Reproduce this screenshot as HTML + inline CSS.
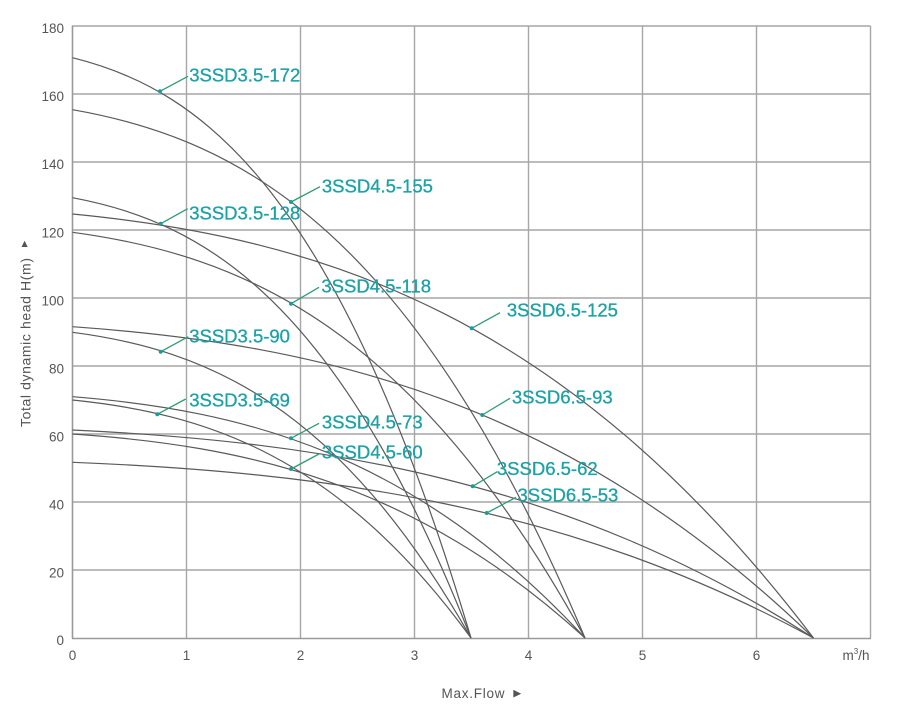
<!DOCTYPE html>
<html>
<head>
<meta charset="utf-8">
<style>
  html, body { margin: 0; padding: 0; background: #ffffff; }
  svg { display: block; }
  .tick { font-family: "Liberation Sans", "DejaVu Sans", sans-serif; font-size: 13.5px; fill: #555555; }
  .lbl { font-family: "Liberation Sans", "DejaVu Sans", sans-serif; font-size: 18.5px; fill: #1aa2a6; stroke: #1aa2a6; stroke-width: 0.3; }
  .ax { font-family: "Liberation Sans", "DejaVu Sans", sans-serif; font-size: 14px; fill: #555555; }
</style>
</head>
<body>
<svg width="900" height="715" viewBox="0 0 900 715" xmlns="http://www.w3.org/2000/svg">
  <rect x="0" y="0" width="900" height="715" fill="#ffffff"/>

  <!-- grid -->
  <g stroke="#a6a6a6" stroke-width="1.4" fill="none">
    <line x1="72.5" y1="26" x2="870.5" y2="26"/>
    <line x1="72.5" y1="94" x2="870.5" y2="94"/>
    <line x1="72.5" y1="162" x2="870.5" y2="162"/>
    <line x1="72.5" y1="230" x2="870.5" y2="230"/>
    <line x1="72.5" y1="298" x2="870.5" y2="298"/>
    <line x1="72.5" y1="366" x2="870.5" y2="366"/>
    <line x1="72.5" y1="434" x2="870.5" y2="434"/>
    <line x1="72.5" y1="502" x2="870.5" y2="502"/>
    <line x1="72.5" y1="570" x2="870.5" y2="570"/>
    <line x1="186.5" y1="26" x2="186.5" y2="638"/>
    <line x1="300.5" y1="26" x2="300.5" y2="638"/>
    <line x1="414.5" y1="26" x2="414.5" y2="638"/>
    <line x1="528.5" y1="26" x2="528.5" y2="638"/>
    <line x1="642.5" y1="26" x2="642.5" y2="638"/>
    <line x1="756.5" y1="26" x2="756.5" y2="638"/>
    <line x1="870.5" y1="26" x2="870.5" y2="638"/>
  </g>
  <g stroke="#999999" stroke-width="1.6" fill="none">
    <line x1="72.5" y1="25.5" x2="72.5" y2="638.5"/>
    <line x1="72" y1="638.5" x2="871" y2="638.5"/>
  </g>

  <!-- curves -->
  <g stroke="#5a5a5a" stroke-width="1.2" fill="none">
    <path d="M72.5,57.7 C205.33,90.6 338.17,193.1 471,638"/>
    <path d="M72.5,109.7 C243.33,139.6 414.17,233.0 585,638"/>
    <path d="M72.5,197.7 C205.33,222.6 338.17,300.4 471,638"/>
    <path d="M72.5,214 C319.5,238.0 566.5,312.9 813.5,638"/>
    <path d="M72.5,232.3 C243.33,255.3 414.17,327.0 585,638"/>
    <path d="M72.5,326.7 C319.5,344.3 566.5,399.3 813.5,638"/>
    <path d="M72.5,332.3 C205.33,349.6 338.17,403.6 471,638"/>
    <path d="M72.5,396.7 C243.33,410.4 414.17,453.0 585,638"/>
    <path d="M72.5,400 C205.33,413.5 338.17,455.5 471,638"/>
    <path d="M72.5,430 C319.5,441.8 566.5,478.5 813.5,638"/>
    <path d="M72.5,434 C243.33,445.6 414.17,481.6 585,638"/>
    <path d="M72.5,462.3 C319.5,472.3 566.5,503.3 813.5,638"/>
  </g>

  <!-- leader lines -->
  <g stroke="#2e9c72" stroke-width="1.3" fill="none">
    <line x1="160" y1="91.3" x2="188" y2="76.3"/>
    <line x1="291" y1="202" x2="320" y2="186.7"/>
    <line x1="160.7" y1="223.7" x2="187.7" y2="208.7"/>
    <line x1="291" y1="303.7" x2="319" y2="287.3"/>
    <line x1="471.7" y1="328.3" x2="500" y2="312.7"/>
    <line x1="160.7" y1="351.7" x2="188.3" y2="336.7"/>
    <line x1="482.3" y1="415" x2="510" y2="398.3"/>
    <line x1="157.3" y1="414.3" x2="185.7" y2="399"/>
    <line x1="291" y1="438.3" x2="319" y2="423.3"/>
    <line x1="291" y1="469" x2="319" y2="454"/>
    <line x1="472.7" y1="486.3" x2="497.3" y2="471.7"/>
    <line x1="486.7" y1="513" x2="516" y2="497.3"/>
  </g>
  <g fill="#1a9c9c">
    <circle cx="160" cy="91.3" r="2"/>
    <circle cx="291" cy="202" r="2"/>
    <circle cx="160.7" cy="223.7" r="2"/>
    <circle cx="291" cy="303.7" r="2"/>
    <circle cx="471.7" cy="328.3" r="2"/>
    <circle cx="160.7" cy="351.7" r="2"/>
    <circle cx="482.3" cy="415" r="2"/>
    <circle cx="157.3" cy="414.3" r="2"/>
    <circle cx="291" cy="438.3" r="2"/>
    <circle cx="291" cy="469" r="2"/>
    <circle cx="472.7" cy="486.3" r="2"/>
    <circle cx="486.7" cy="513" r="2"/>
  </g>

  <!-- labels -->
  <g class="lbl">
    <text x="189.2" y="81.3">3SSD3.5-172</text>
    <text x="321.9" y="192.3">3SSD4.5-155</text>
    <text x="189.2" y="219.3">3SSD3.5-128</text>
    <text x="321.4" y="292.7">3SSD4.5-118</text>
    <text x="506.9" y="316.7">3SSD6.5-125</text>
    <text x="189.2" y="342.3">3SSD3.5-90</text>
    <text x="511.9" y="403.3">3SSD6.5-93</text>
    <text x="189.2" y="406.7">3SSD3.5-69</text>
    <text x="321.9" y="428.3">3SSD4.5-73</text>
    <text x="321.9" y="458.3">3SSD4.5-60</text>
    <text x="496.9" y="475">3SSD6.5-62</text>
    <text x="517.5" y="501.7">3SSD6.5-53</text>
  </g>

  <!-- y tick labels -->
  <g class="tick" text-anchor="end">
    <text x="64" y="33">180</text>
    <text x="64" y="101">160</text>
    <text x="64" y="169">140</text>
    <text x="64" y="237.5">120</text>
    <text x="64" y="305.5">100</text>
    <text x="64" y="373.5">80</text>
    <text x="64" y="441.5">60</text>
    <text x="64" y="509.5">40</text>
    <text x="64" y="577.5">20</text>
    <text x="64" y="645">0</text>
  </g>
  <!-- x tick labels -->
  <g class="tick" text-anchor="middle">
    <text x="72.5" y="660">0</text>
    <text x="186.5" y="660">1</text>
    <text x="300.5" y="660">2</text>
    <text x="414.5" y="660">3</text>
    <text x="528.5" y="660">4</text>
    <text x="642.5" y="660">5</text>
    <text x="756.5" y="660">6</text>
  </g>
  <text class="tick" x="842.5" y="660">m<tspan font-size="8" dy="-6">3</tspan><tspan dy="6">/h</tspan></text>

  <!-- axis titles -->
  <text class="ax" style="font-size:13.5px" x="441.5" y="698" textLength="63" lengthAdjust="spacing">Max.Flow</text>
  <polygon points="513.3,689.8 513.3,697.5 521.2,693.7" fill="#555555"/>

  <text class="ax" transform="translate(30.5,427) rotate(-90)" textLength="169" lengthAdjust="spacing">Total dynamic head H(m)</text>
  <polygon points="21.5,247 27.7,247 24.6,240.8" fill="#555555"/>
</svg>
</body>
</html>
